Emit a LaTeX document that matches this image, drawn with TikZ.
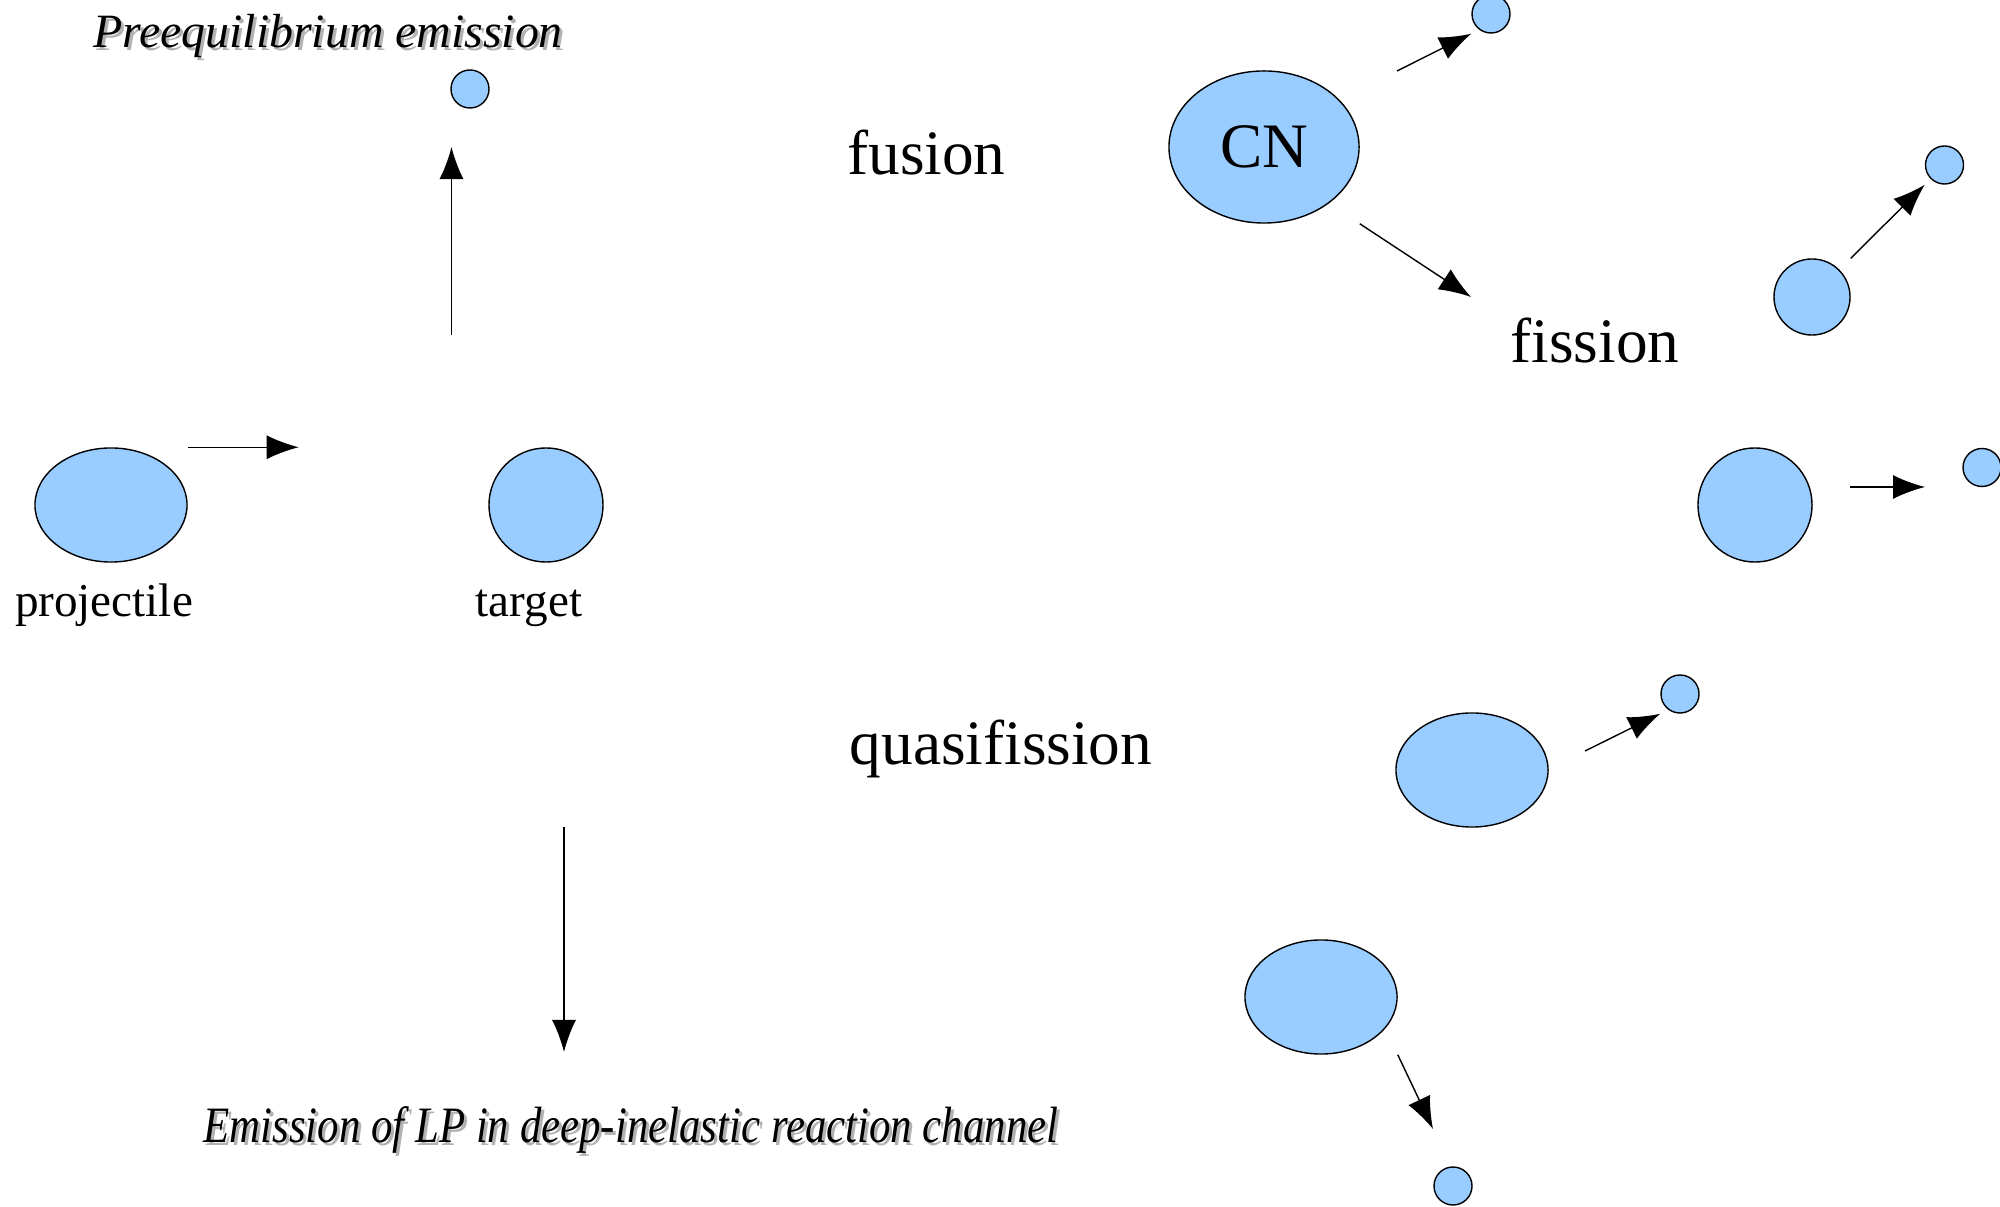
\documentclass[tikz,border=0pt]{standalone}
\usepackage{fontspec}
\setmainfont{Liberation Serif}[Ligatures=NoCommon]
\usetikzlibrary{calc}
\usetikzlibrary{positioning}
\usetikzlibrary{shapes.geometric}
\usetikzlibrary{arrows.meta}
\definecolor{nucblue}{RGB}{153,204,255}

\begin{document}
\begin{tikzpicture}[->, >={Latex[length=3.2mm,width=2.4mm]}, x=0.01cm, y=-0.01cm, draw=black, line width=0.4pt]
	\tikzstyle{nucleus}=[ellipse, draw=black, fill=nucblue, minimum width=1.52cm, minimum height=1.14cm, inner sep=0pt]
	\tikzstyle{sphere}=[circle, draw=black, fill=nucblue, minimum size=1.14cm, inner sep=0pt]
	\tikzstyle{fragment}=[circle, draw=black, fill=nucblue, minimum size=0.76cm, inner sep=0pt]
	\tikzstyle{particle}=[circle, draw=black, fill=nucblue, minimum size=0.38cm, inner sep=0pt]
	\tikzstyle{lbl}=[font=\fontsize{13.4}{16}\selectfont, inner sep=0pt, anchor=base]
	\tikzstyle{channel}=[font=\fontsize{18}{22}\selectfont, inner sep=0pt, anchor=base]
	\tikzstyle{emis}=[font=\itshape\fontsize{13.6}{16}\selectfont, inner sep=0pt, anchor=base]
	\tikzstyle{emisdic}=[font=\itshape\fontsize{14.5}{17}\selectfont, inner sep=0pt, anchor=base]

	\useasboundingbox (0,0) rectangle (2000,1207);

	% entrance channel
	\node[nucleus] (proj) at (111,505) {};
	\node[sphere] (targ) at (546,505) {};
	\node[lbl] (projlbl) at ($(proj.south)+(-7,54)$) {projectile};
	\node[lbl] (targlbl) at ($(targ.south)+(-17,54)$) {target};
	\coordinate (pa0) at (proj.east |- proj.north);
	\coordinate (pa1) at ($(pa0)+(111,0)$);
	\path (pa0) edge (pa1);

	% preequilibrium
	\node[particle] (prelp) at (470,89) {};
	\node[emis, text=black!30] (presh) at (331,51) {Preequilibrium emission};
	\node[emis] (pre) at (328,48) {Preequilibrium emission};
	\coordinate (pu0) at (451.5,335);
	\coordinate (pu1) at (451.5,147);
	\path (pu0) edge (pu1);

	% fusion
	\node[channel] (fus) at (926.5,175) {fusion};
	\node[nucleus, minimum width=1.9cm, minimum height=1.52cm, font=\fontsize{18}{22}\selectfont] (cn) at (1264,147) {CN};
	\node[particle] (cnlp) at (1491,14) {};
	\coordinate (ca0) at (1397,71);
	\coordinate (ca1) at (cnlp.west |- cnlp.south);
	\path (ca0) edge (ca1);
	\coordinate (cf0) at (cn.east |- cn.south);
	\coordinate (cf1) at (1471,297);
	\path (cf0) edge (cf1);

	% fission
	\node[channel] (fis) at (1595,363) {fission};
	\node[fragment] (fisfr) at (1812,297) {};
	\node[particle] (fislp) at (1944.5,165) {};
	\coordinate (fa0) at (fisfr.east |- fisfr.north);
	\coordinate (fa1) at (fislp.west |- fislp.south);
	\path (fa0) edge (fa1);

	\node[sphere] (mid) at (1755,505) {};
	\node[particle] (midlp) at (1982,467.5) {};
	\coordinate (ma0) at (1850,487);
	\coordinate (ma1) at (1925,487);
	\path (ma0) edge (ma1);

	% quasifission
	\node[channel] (qfis) at (1001,765) {quasifission};
	\node[nucleus] (qf) at (1472,770) {};
	\node[particle] (qflp) at (1680,694) {};
	\coordinate (qa0) at (1585,751);
	\coordinate (qa1) at (qflp.west |- qflp.south);
	\path (qa0) edge (qa1);

	% deep-inelastic
	\node[nucleus] (dic) at (1321,997) {};
	\node[particle] (diclp) at (1453,1186) {};
	\coordinate (da0) at (dic.east |- dic.south);
	\coordinate (da1) at (1433,1129);
	\path (da0) edge (da1);
	\coordinate (du0) at (564,827);
	\coordinate (du1) at (564,1052);
	\path (du0) edge (du1);
	\node[emisdic, text=black!30] (dicsh) at (634,1145) {\scalebox{0.84}[1]{Emission of LP in deep-inelastic reaction channel}};
	\node[emisdic] (dictxt) at (631,1142) {\scalebox{0.84}[1]{Emission of LP in deep-inelastic reaction channel}};
\end{tikzpicture}
\end{document}
